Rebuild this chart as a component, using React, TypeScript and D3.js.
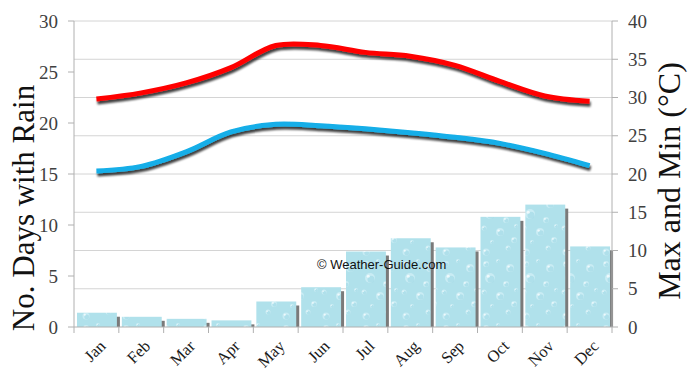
import React from "react";
import * as d3 from "d3";

const months = ["Jan","Feb","Mar","Apr","May","Jun","Jul","Aug","Sep","Oct","Nov","Dec"];
const rainDays = [1.4, 1.0, 0.8, 0.65, 2.5, 3.9, 7.4, 8.7, 7.8, 10.8, 12.0, 7.9];
const maxTemp = [29.8, 30.6, 31.9, 33.9, 36.8, 36.8, 35.9, 35.4, 34.2, 32.1, 30.2, 29.5];
const minTemp = [20.4, 21.0, 22.9, 25.5, 26.5, 26.3, 25.9, 25.4, 24.8, 24.0, 22.7, 21.1];
const leftTicks = [0, 5, 10, 15, 20, 25, 30];
const rightTicks = [0, 5, 10, 15, 20, 25, 30, 35, 40];

const W = 690, H = 379;
const left = 74, right = 612, top = 21, bottom = 327;

export default function App() {
  const x = d3.scaleBand<string>().domain(months).range([left, right]).paddingInner(0).paddingOuter(0);
  const yL = d3.scaleLinear().domain([0, 30]).range([bottom, top]);
  const yR = d3.scaleLinear().domain([0, 40]).range([bottom, top]);
  const bw = x.bandwidth();
  const line = d3.line<number>()
    .x((_, i) => (x(months[i]) as number) + bw / 2)
    .y((d) => yR(d))
    .curve(d3.curveCatmullRom.alpha(0.5));
  const serif = "'Liberation Serif', 'DejaVu Serif', serif";
  const bubbles = [
    [6, 8, 3], [18, 5, 2], [30, 12, 4], [10, 22, 5], [26, 28, 3], [36, 34, 2], [4, 36, 2.5], [20, 40, 4], [34, 48, 3], [12, 50, 2], [28, 56, 2.5], [6, 60, 3.5],
  ];
  return (
    <svg width={W} height={H} style={{ position: "absolute", left: 0, top: 0, background: "#fff" }}>
      <defs>
        <pattern id="drops" width="40" height="64" patternUnits="userSpaceOnUse">
          <rect width="40" height="64" fill="#b0e1eb" />
          {bubbles.map(([cx, cy, r], i) => (
            <g key={i}>
              <circle cx={cx} cy={cy} r={r} fill="#c9ecf4" />
              <circle cx={cx + r * 0.2} cy={cy + r * 0.25} r={r * 0.7} fill="#96d3e1" opacity={0.5} />
              <circle cx={cx - r * 0.35} cy={cy - r * 0.35} r={r * 0.3} fill="#ffffff" opacity={0.7} />
            </g>
          ))}
        </pattern>
        <filter id="lshadow" x="-10%" y="-30%" width="120%" height="160%">
          <feGaussianBlur in="SourceAlpha" stdDeviation="1.2" />
          <feOffset dx="1" dy="3" result="b" />
          <feComponentTransfer in="b" result="s">
            <feFuncA type="linear" slope="0.75" />
          </feComponentTransfer>
          <feMerge>
            <feMergeNode in="s" />
            <feMergeNode in="SourceGraphic" />
          </feMerge>
        </filter>
      </defs>

      {rightTicks.filter((t) => t > 0).map((t) => (
        <line key={t} x1={left} x2={right} y1={yR(t)} y2={yR(t)} stroke="#d4d4d4" strokeWidth={1} />
      ))}

      {rainDays.map((v, i) => {
        const bx = (x(months[i]) as number) + 3;
        const w = bw * 0.89;
        const y0 = yL(v);
        const h = bottom - y0;
        return (
          <g key={i}>
            <rect x={bx + 3} y={y0 + 4} width={w} height={Math.max(0, h - 4)} fill="#7a7a7a" />
            <rect x={bx} y={y0} width={w} height={h} fill="url(#drops)" />
          </g>
        );
      })}

      <line x1={left} x2={left} y1={top} y2={bottom} stroke="#b0b0b0" />
      <line x1={right} x2={right} y1={top} y2={bottom} stroke="#b0b0b0" />
      <line x1={left} x2={right} y1={bottom} y2={bottom} stroke="#b0b0b0" />
      {leftTicks.map((t) => (
        <g key={t}>
          <line x1={left - 6} x2={left} y1={yL(t)} y2={yL(t)} stroke="#b0b0b0" />
          <text x={58} y={yL(t)} dy="0.35em" textAnchor="end" fontFamily={serif} fontSize={19} fill="#404040">{t}</text>
        </g>
      ))}
      {rightTicks.map((t) => (
        <g key={t}>
          <line x1={right} x2={right + 6} y1={yR(t)} y2={yR(t)} stroke="#b0b0b0" />
          <text x={628} y={yR(t)} dy="0.35em" textAnchor="start" fontFamily={serif} fontSize={19} fill="#404040">{t}</text>
        </g>
      ))}
      {months.map((m, i) => {
        const xt = x(m) as number;
        const cx = xt + bw / 2;
        return (
          <g key={m}>
            <line x1={xt} x2={xt} y1={bottom} y2={bottom + 6} stroke="#b0b0b0" />
            <text transform={`translate(${cx + 6},${bottom + 16}) rotate(-45)`} textAnchor="end" dy="0.35em" fontFamily={serif} fontSize={16.5} fill="#1a1a1a">{m}</text>
          </g>
        );
      })}
      <line x1={right} x2={right} y1={bottom} y2={bottom + 6} stroke="#b0b0b0" />

      <path d={line(maxTemp) as string} fill="none" stroke="#ff0000" strokeWidth={5} filter="url(#lshadow)" />
      <path d={line(minTemp) as string} fill="none" stroke="#12aee8" strokeWidth={5} filter="url(#lshadow)" />

      <text x={317} y={269} fontFamily="'Liberation Sans', Arial, sans-serif" fontSize={13} fill="#111">© Weather-Guide.com</text>

      <text transform="translate(34,208) rotate(-90)" textAnchor="middle" fontFamily={serif} fontSize={31} fill="#111">No. Days with Rain</text>
      <text transform="translate(680,181) rotate(-90)" textAnchor="middle" fontFamily={serif} fontSize={32} fill="#111">Max and Min (°C)</text>
    </svg>
  );
}
